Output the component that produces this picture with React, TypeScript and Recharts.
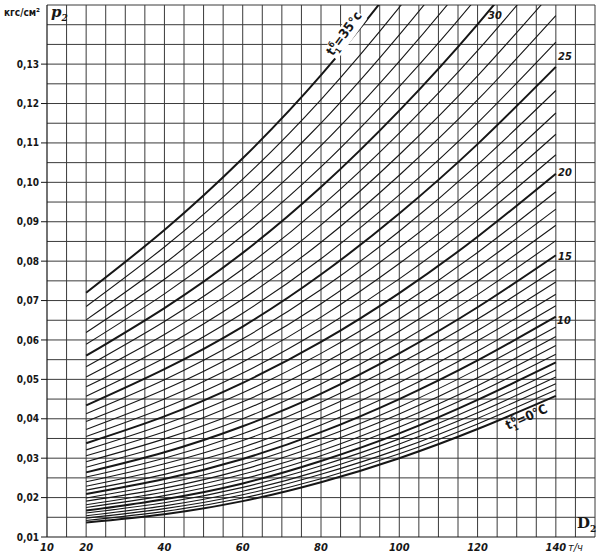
import { LineChart, Line, XAxis, YAxis, ReferenceLine } from "recharts"

// flow D2, t/h
const flows = [20, 40, 60, 80, 100, 120, 140]
// inlet temperature t1, °C
const temps = [
  0, 1, 2, 3, 4, 5, 6, 7, 8, 9, 10, 11, 12, 13, 14, 15, 16, 17,
  18, 19, 20, 21, 22, 23, 24, 25, 26, 27, 28, 29, 30, 31, 32, 33, 34, 35,
]
// p2, kgf/cm2 — one row per temperature, one value per flow
const pressures = [
  [0.0137, 0.0158, 0.0191, 0.0239, 0.03, 0.0374, 0.0458],
  [0.0142, 0.0165, 0.0199, 0.0248, 0.0311, 0.0387, 0.0473],
  [0.0148, 0.0172, 0.0207, 0.0259, 0.0323, 0.0401, 0.0489],
  [0.0154, 0.0179, 0.0216, 0.0269, 0.0336, 0.0415, 0.0506],
  [0.0161, 0.0187, 0.0226, 0.0281, 0.0349, 0.0431, 0.0524],
  [0.0167, 0.0196, 0.0236, 0.0293, 0.0363, 0.0448, 0.0543],
  [0.0175, 0.0205, 0.0247, 0.0306, 0.0379, 0.0466, 0.0564],
  [0.0182, 0.0214, 0.0259, 0.0319, 0.0395, 0.0484, 0.0586],
  [0.0191, 0.0224, 0.0271, 0.0334, 0.0412, 0.0504, 0.0609],
  [0.0199, 0.0235, 0.0284, 0.035, 0.043, 0.0526, 0.0633],
  [0.0209, 0.0247, 0.0298, 0.0366, 0.045, 0.0548, 0.0659],
  [0.0219, 0.0259, 0.0313, 0.0384, 0.047, 0.0572, 0.0687],
  [0.0229, 0.0272, 0.0328, 0.0402, 0.0492, 0.0598, 0.0716],
  [0.024, 0.0286, 0.0345, 0.0422, 0.0515, 0.0624, 0.0747],
  [0.0252, 0.03, 0.0362, 0.0442, 0.054, 0.0653, 0.078],
  [0.0264, 0.0315, 0.0381, 0.0464, 0.0566, 0.0683, 0.0815],
  [0.0277, 0.0332, 0.04, 0.0488, 0.0593, 0.0715, 0.0852],
  [0.0291, 0.0349, 0.0421, 0.0512, 0.0622, 0.0749, 0.0891],
  [0.0306, 0.0367, 0.0443, 0.0538, 0.0653, 0.0785, 0.0932],
  [0.0321, 0.0386, 0.0466, 0.0566, 0.0685, 0.0822, 0.0976],
  [0.0338, 0.0406, 0.0491, 0.0595, 0.0719, 0.0862, 0.1022],
  [0.0355, 0.0428, 0.0516, 0.0626, 0.0755, 0.0904, 0.107],
  [0.0373, 0.045, 0.0544, 0.0658, 0.0794, 0.0949, 0.1122],
  [0.0393, 0.0474, 0.0572, 0.0692, 0.0834, 0.0995, 0.1176],
  [0.0413, 0.0499, 0.0603, 0.0728, 0.0876, 0.1045, 0.1233],
  [0.0434, 0.0526, 0.0634, 0.0766, 0.0921, 0.1097, 0.1293],
  [0.0457, 0.0554, 0.0668, 0.0806, 0.0968, 0.1151, 0.1356],
  [0.0481, 0.0583, 0.0704, 0.0848, 0.1018, 0.1209, 0.1423],
  [0.0506, 0.0614, 0.0741, 0.0892, 0.107, 0.127, 0.1493],
  [0.0532, 0.0647, 0.078, 0.0939, 0.1125, 0.1334, 0.1567],
  [0.056, 0.0681, 0.0821, 0.0988, 0.1182, 0.1401, 0.1644],
  [0.0589, 0.0717, 0.0865, 0.1039, 0.1243, 0.1471, 0.1726],
  [0.0619, 0.0754, 0.091, 0.1093, 0.1307, 0.1546, 0.1811],
  [0.0651, 0.0794, 0.0958, 0.115, 0.1374, 0.1624, 0.1902],
  [0.0685, 0.0836, 0.1008, 0.121, 0.1444, 0.1705, 0.1996],
  [0.072, 0.0879, 0.1061, 0.1272, 0.1518, 0.1791, 0.2095],
]

const xTicks = [10, 20, 40, 60, 80, 100, 120, 140]
const yTicks = [0.01, 0.02, 0.03, 0.04, 0.05, 0.06, 0.07, 0.08, 0.09, 0.1, 0.11, 0.12, 0.13]
const gridX = Array.from({ length: 28 }, (_, i) => 15 + i * 5)
const gridY = Array.from({ length: 27 }, (_, i) => Math.round((0.015 + i * 0.005) * 1000) / 1000)

const data = flows.map((f, i) => {
  const row: Record<string, number> = { flow: f }
  temps.forEach((t, j) => {
    row["t" + t] = pressures[j][i]
  })
  return row
})

const ink = "#161616"
const gridInk = "#3a3a3a"
const font = "'DejaVu Sans Condensed', 'Liberation Sans Narrow', 'DejaVu Sans', sans-serif"

const label = (extra: React.CSSProperties): React.CSSProperties => ({
  position: "absolute",
  fontFamily: font,
  fontWeight: 700,
  fontStyle: "italic",
  fontSize: 11,
  color: ink,
  lineHeight: 1,
  whiteSpace: "nowrap",
  ...extra,
})

export default function App() {
  return (
    <div style={{ position: "absolute", left: 0, top: 0, width: 603, height: 558, background: "#fff" }}>
      <LineChart width={603} height={558} data={data} margin={{ top: 5, right: 8, bottom: 3, left: 7 }}>
        <XAxis
          dataKey="flow"
          type="number"
          domain={[10, 150]}
          ticks={xTicks}
          height={18}
          tickSize={0}
          tickMargin={6}
          axisLine={{ stroke: ink, strokeWidth: 1.2 }}
          tick={{ fontSize: 11, fontFamily: font, fontWeight: 700, fontStyle: "italic", fill: ink }}
        />
        <YAxis
          type="number"
          domain={[0.01, 0.145]}
          allowDataOverflow
          ticks={yTicks}
          width={40}
          tickSize={6}
          tickMargin={2}
          tickFormatter={(v: number) => v.toFixed(2).replace(".", ",")}
          axisLine={{ stroke: ink, strokeWidth: 1.2 }}
          tickLine={{ stroke: ink }}
          tick={{ fontSize: 10, fontFamily: font, fontWeight: 700, fill: ink }}
        />
        {gridX.map((v) => (
          <ReferenceLine key={"gx" + v} x={v} stroke={gridInk} strokeWidth={1} ifOverflow="visible" />
        ))}
        {gridY.map((v) => (
          <ReferenceLine key={"gy" + v} y={v} stroke={gridInk} strokeWidth={1} ifOverflow="visible" />
        ))}
        {temps.map((t) => (
          <Line
            key={t}
            dataKey={"t" + t}
            type="natural"
            stroke={ink}
            strokeWidth={t % 5 === 0 ? 2 : 1.1}
            dot={false}
            activeDot={false}
            isAnimationActive={false}
          />
        ))}
      </LineChart>

      <div style={label({ left: 4, top: 8, fontSize: 10, fontStyle: "normal" })}>кгс/см²</div>
      <div style={label({ left: 51, top: 5, fontSize: 15, fontFamily: "'DejaVu Serif', serif" })}>
        p<sub style={{ fontSize: 9 }}>2</sub>
      </div>
      <div style={label({ left: 488, top: 10 })}>30</div>
      <div style={label({ left: 558, top: 51 })}>25</div>
      <div style={label({ left: 558, top: 167 })}>20</div>
      <div style={label({ left: 558, top: 251 })}>15</div>
      <div style={label({ left: 557, top: 315 })}>10</div>
      <div style={label({ left: 577, top: 516, fontSize: 15, fontStyle: "normal", fontFamily: "'DejaVu Serif', serif" })}>
        D<sub style={{ fontSize: 9 }}>2</sub>
      </div>
      <div style={label({ left: 568, top: 542, fontSize: 11, fontWeight: 400 })}>т/ч</div>
      <div
        style={label({
          left: 505,
          top: 410,
          fontSize: 13,
          fontStyle: "normal",
          transform: "rotate(-24deg)",
          transformOrigin: "center",
        })}
      >
        t<sub style={{ fontSize: 8 }}>1</sub>
        <sup style={{ fontSize: 8, marginLeft: -4 }}>б</sup>=0°C
      </div>
      <div
        style={label({
          left: 320,
          top: 26,
          fontSize: 13,
          fontStyle: "normal",
          transform: "rotate(-54deg)",
          transformOrigin: "center",
          background: "#fff",
        })}
      >
        t<sub style={{ fontSize: 8 }}>1</sub>
        <sup style={{ fontSize: 8, marginLeft: -4 }}>б</sup>=35°c
      </div>
    </div>
  )
}
